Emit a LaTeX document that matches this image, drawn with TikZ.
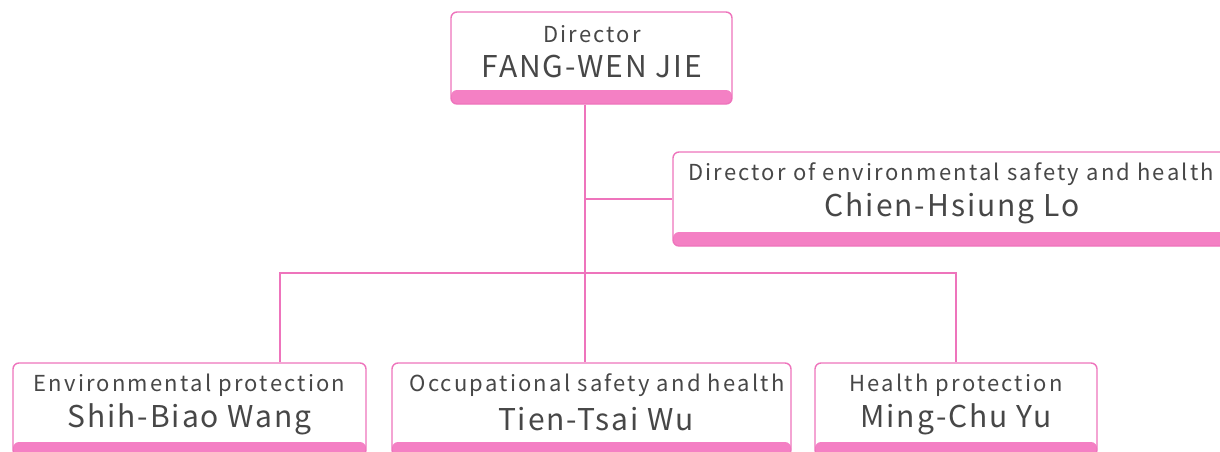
\documentclass[tikz,border=0pt]{standalone}
\usepackage{fontspec}
\setmainfont{Noto Sans CJK TC}
\newfontfamily\lblfont[LetterSpace=10]{Noto Sans CJK TC}
\newfontfamily\namefont[LetterSpace=6.5]{Noto Sans CJK TC}
\definecolor{pinkline}{HTML}{EE74BC}
\definecolor{pinkbar}{HTML}{F480C4}
\definecolor{txt}{HTML}{474747}
\tikzset{
  card/.style={draw=pinkline, line width=1.4pt, rounded corners=6pt, fill=white,
    path picture={\fill[pinkbar] ([yshift=#1]path picture bounding box.south west) rectangle (path picture bounding box.north east |- path picture bounding box.south);}},
  lbl/.style={text=txt, font=\lblfont\fontsize{22}{25}\selectfont, inner sep=0pt, anchor=center},
  nm/.style={text=txt, font=\namefont\fontsize{30}{33}\selectfont, inner sep=0pt, anchor=center},
  conn/.style={draw=pinkline, line width=1.3pt}
}
\begin{document}
\begin{tikzpicture}[x=1pt,y=-1pt]
\path[use as bounding box] (0,0) rectangle (1220,452);
\clip (0,0) rectangle (1220,452);
% connectors
\coordinate (j1) at (585,199);
\coordinate (l) at (280,273);
\coordinate (r) at (956,273);
% cards
\node[card=14pt, minimum width=281pt, minimum height=92pt, inner sep=0pt] (dir) at (591.5,58) {};
\node[card=14pt, minimum width=556pt, minimum height=94pt, inner sep=0pt] (ehs) at (951,199) {};
\node[card=14pt, minimum width=353pt, minimum height=93pt, inner sep=0pt] (env) at (189.5,409.5) {};
\node[card=14pt, minimum width=399pt, minimum height=93pt, inner sep=0pt] (occ) at (591.5,409.5) {};
\node[card=14pt, minimum width=282pt, minimum height=93pt, inner sep=0pt] (hp) at (956,409.5) {};
\draw[conn] (dir.south -| j1) -- (occ.north -| j1);
\draw[conn] (j1) -- (ehs.west);
\draw[conn] (env.north -| l) -- (l) -- (r) -- (hp.north);
% texts
\node[lbl] (t1) at (592,34) {Director};
\node[nm] (n1) at (592,66.5) {FANG-WEN JIE};
\node[lbl] (t2) at (951,174.5) {Director of environmental safety and health};
\node[nm] (n2) at (952,208) {Chien-Hsiung Lo};
\node[lbl] (t3) at (189.5,385.5) {Environmental protection};
\node[nm] (n3) at (189.5,419) {Shih-Biao Wang};
\node[lbl] (t4) at (597,385.5) {Occupational safety and health};
\node[nm] (n4) at (596,419) {Tien-Tsai Wu};
\node[lbl] (t5) at (956,385.5) {Health protection};
\node[nm] (n5) at (956,419) {Ming-Chu Yu};
\end{tikzpicture}
\end{document}
